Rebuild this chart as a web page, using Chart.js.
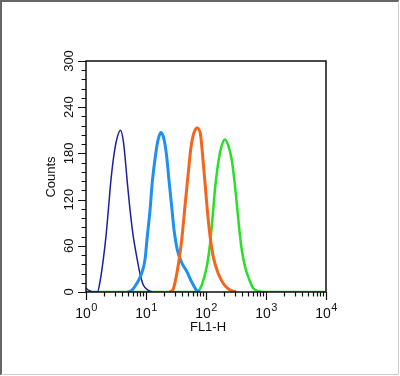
<!DOCTYPE html>
<html>
<head>
<meta charset="utf-8">
<script src="https://cdn.jsdelivr.net/npm/chart.js@4.4.1/dist/chart.umd.min.js"></script>
<style>
  html, body { margin: 0; padding: 0; background: #fff; }
  #wrap { width: 400px; height: 376px; position: relative; }
</style>
</head>
<body>
<div id="wrap"><canvas id="c" width="400" height="376"></canvas></div>
<script>
// ---- Data (FL1-H channel value, count) ----
const navyX   = [1.0, 1.12, 1.3, 1.55, 1.71, 1.94, 2.15, 2.36, 2.58, 2.85, 3.25, 3.78, 4.19, 4.47, 4.88, 5.41, 6.14, 7.0, 7.94, 9.02, 11.0, 12.5];
const navyY   = [5,   2,    0,   0,    13,   42,   72,   107,  142,  172,  198,  210,  196,  176,  142,  107,  72,   46,  24,   9,    2,    0];

const lightX  = [5.0, 5.78, 7.0, 8.26, 9.62, 10.5, 11.7, 12.7, 14.1, 15.7, 17.8, 20.0, 22.1, 24.4, 26.8, 29.3, 33.2, 39.4, 47.7, 57.8, 70.0, 79.4];
const lightY  = [0,   2,    11,  22,   42,   72,   107,  142,  172,  196,  207,  198,  176,  142,  111,  81,   55,   38,   27,   13,   2,    0];

const orangeX = [25.0, 28.5, 34.5, 39.4, 44.7, 50.7, 56.2, 63.1, 71.6, 81.6, 88.1, 96.2, 105, 117, 132, 160, 194, 235, 285, 320];
const orangeY = [0,    4,    35,   68,   112,  155,  188,  207,  213,  203,  176,  142,  107, 72,  46,  24,  11,  4,   1,   0];

const greenX  = [1.0, 70.0, 74.4, 85.8, 103, 117, 129, 141, 154, 171, 190, 207, 235, 268, 296, 325, 355, 394, 447, 527, 614, 745, 962, 10000];
const greenY  = [0,   0,    1,    10,   33,  63,  98,  133, 159, 181, 194, 198, 190, 172, 146, 116, 85,  55,  33,  16,  5,   1,   0,   0];

const yTicks = [0, 60, 120, 180, 240, 300];
const xDecades = [0, 1, 2, 3, 4];
const xTitle = 'FL1-H';
const yTitle = 'Counts';

function pts(xs, ys) { return xs.map((x, i) => ({ x: x, y: ys[i] })); }

const FONT = '"Liberation Sans", Arial, Helvetica, sans-serif';

const axesPlugin = {
  id: 'axesPlugin',
  afterDraw(chart) {
    const ctx = chart.ctx;
    const a = chart.chartArea;
    const xs = chart.scales.x, ys = chart.scales.y;
    ctx.save();
    // plot frame
    ctx.strokeStyle = '#111';
    ctx.lineWidth = 1.5;
    ctx.strokeRect(a.left, a.top, a.right - a.left, a.bottom - a.top);

    // y ticks
    ctx.lineWidth = 1.2;
    ctx.beginPath();
    for (let v = 0; v <= 300; v += 12) {
      const y = Math.round(ys.getPixelForValue(v)) + 0.5;
      const major = v % 60 === 0;
      ctx.moveTo(a.left, y);
      ctx.lineTo(a.left - (major ? 8 : 4.5), y);
    }
    // x ticks
    for (let d = 0; d < 4; d++) {
      for (let m = 1; m <= 9; m++) {
        const x = Math.round(xs.getPixelForValue(m * Math.pow(10, d))) + 0.5;
        ctx.moveTo(x, a.bottom);
        ctx.lineTo(x, a.bottom + (m === 1 ? 8 : 4.5));
      }
    }
    const xe = Math.round(xs.getPixelForValue(10000)) + 0.5;
    ctx.moveTo(xe, a.bottom);
    ctx.lineTo(xe, a.bottom + 8);
    ctx.stroke();

    ctx.fillStyle = '#111';
    // y tick labels (rotated)
    ctx.font = '13px ' + FONT;
    ctx.textAlign = 'center';
    ctx.textBaseline = 'middle';
    yTicks.forEach(v => {
      const y = ys.getPixelForValue(v);
      ctx.save();
      ctx.translate(69, y);
      ctx.rotate(-Math.PI / 2);
      ctx.fillText(String(v), 0, 0);
      ctx.restore();
    });

    // x tick labels 10^n
    xDecades.forEach(n => {
      const x = xs.getPixelForValue(Math.pow(10, n));
      ctx.font = '14px ' + FONT;
      const wb = ctx.measureText('10').width;
      ctx.font = '11px ' + FONT;
      const we = ctx.measureText(String(n)).width;
      const start = x - (wb + we) / 2;
      ctx.textAlign = 'left';
      ctx.textBaseline = 'alphabetic';
      ctx.font = '14px ' + FONT;
      ctx.fillText('10', start, 318);
      ctx.font = '11px ' + FONT;
      ctx.fillText(String(n), start + wb + 0.5, 311);
    });

    // axis titles
    ctx.font = '13px ' + FONT;
    ctx.textAlign = 'center';
    ctx.textBaseline = 'middle';
    ctx.fillText(xTitle, 208, 327);
    ctx.save();
    ctx.translate(51, 177);
    ctx.rotate(-Math.PI / 2);
    ctx.fillText(yTitle, 0, 0);
    ctx.restore();

    // outer border
    ctx.lineWidth = 2;
    ctx.strokeStyle = '#666';
    ctx.beginPath();
    ctx.moveTo(1, 375); ctx.lineTo(1, 1); ctx.lineTo(399, 1);
    ctx.stroke();
    ctx.strokeStyle = '#ccc';
    ctx.lineWidth = 1;
    ctx.beginPath();
    ctx.moveTo(398.5, 1); ctx.lineTo(398.5, 374.5); ctx.lineTo(1, 374.5);
    ctx.stroke();
    ctx.restore();
  }
};

new Chart(document.getElementById('c'), {
  type: 'line',
  data: {
    datasets: [
      { label: 'navy', data: pts(navyX, navyY), borderColor: '#1f1fa3', borderWidth: 1.5, order: 2 },
      { label: 'light', data: pts(lightX, lightY), borderColor: '#1e90f0', borderWidth: 3, order: 1 },
      { label: 'orange', data: pts(orangeX, orangeY), borderColor: '#f3661c', borderWidth: 3, order: 0 },
      { label: 'green', data: pts(greenX, greenY), borderColor: '#28e028', borderWidth: 2.5, order: 3 }
    ]
  },
  options: {
    responsive: false,
    animation: false,
    parsing: true,
    elements: { point: { radius: 0 }, line: { tension: 0.3, cubicInterpolationMode: 'monotone', fill: false } },
    layout: { padding: { left: 86, top: 61, right: 74, bottom: 84 } },
    plugins: { legend: { display: false }, tooltip: { enabled: false } },
    scales: {
      x: { type: 'logarithmic', min: 1, max: 10000, display: false },
      y: { type: 'linear', min: 0, max: 300, display: false }
    }
  },
  plugins: [axesPlugin]
});
</script>
</body>
</html>
